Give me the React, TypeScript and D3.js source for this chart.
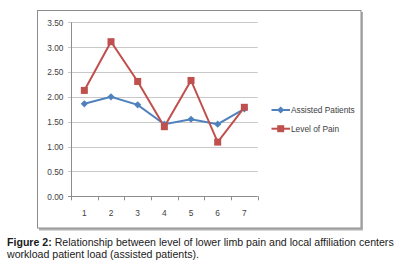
import React from "react";
import * as d3 from "d3";

const categories = ["1", "2", "3", "4", "5", "6", "7"];
const assistedPatients = [1.86, 2.0, 1.84, 1.45, 1.55, 1.45, 1.76];
const levelOfPain = [2.13, 3.11, 2.31, 1.40, 2.33, 1.09, 1.79];
const yTicks = [0, 0.5, 1, 1.5, 2, 2.5, 3, 3.5];
const seriesNames = ["Assisted Patients", "Level of Pain"];

const BLUE = "#4F81BD";
const RED = "#C0504D";
const FONT = "'Liberation Sans', Arial, sans-serif";
const SX = 0.85;

function NarrowText(props: { x: number; y: number; anchor?: string; size?: number; children: React.ReactNode }) {
  const { x, y, anchor = "start", size = 9.8, children } = props;
  return (
    <text transform={`translate(${x},${y}) scale(${SX},1)`} dy="0.35em" textAnchor={anchor}
      fontSize={size} fontFamily={FONT} fill="#404040">{children}</text>
  );
}

export default function App() {
  const W = 402, H = 272;
  const left = 71, right = 257.7, top = 22.3, bottom = 196.3;
  const x = d3.scaleBand<string>().domain(categories).range([left, right]).padding(0);
  const y = d3.scaleLinear().domain([0, 3.5]).range([bottom, top]);
  const cx = (c: string) => (x(c) as number) + x.bandwidth() / 2;
  const line = d3.line<number>().x((_, i) => cx(categories[i])).y((d) => y(d));
  const bounds = [...categories.map((c) => x(c) as number), right];

  const diamond = (px: number, py: number, r = 3.6) =>
    `M${px},${py - r}L${px + r},${py}L${px},${py + r}L${px - r},${py}Z`;

  return (
    <svg width={W} height={H} style={{ position: "absolute", left: 0, top: 0 }}>
      <rect x={0} y={0} width={W} height={H} fill="#fff" />
      <rect x={39} y={12} width={324} height={218.5} fill="#b0b0b0" />
      <rect x={37.5} y={10.5} width={323.5} height={217.5} fill="#fff" stroke="#8c8c8c" strokeWidth={1} />
      {yTicks.map((t) => (
        <line key={t} x1={left - 3} x2={right} y1={Math.round(y(t)) + 0.5} y2={Math.round(y(t)) + 0.5}
          stroke={t === 0 ? "#8c8c8c" : "#c8c8c8"} strokeWidth={1} />
      ))}
      <line x1={left + 0.5} x2={left + 0.5} y1={top} y2={bottom} stroke="#8c8c8c" />
      {bounds.map((b, i) => (
        <line key={i} x1={Math.round(b) + 0.5} x2={Math.round(b) + 0.5} y1={bottom} y2={bottom + 4} stroke="#8c8c8c" />
      ))}
      {yTicks.map((t) => (
        <NarrowText key={t} x={63.5} y={y(t)} anchor="end">{t.toFixed(2)}</NarrowText>
      ))}
      {categories.map((c) => (
        <NarrowText key={c} x={cx(c)} y={212.3} anchor="middle">{c}</NarrowText>
      ))}
      <path d={line(assistedPatients) as string} fill="none" stroke={BLUE} strokeWidth={2} />
      {assistedPatients.map((v, i) => (
        <path key={i} d={diamond(cx(categories[i]), y(v))} fill={BLUE} />
      ))}
      <path d={line(levelOfPain) as string} fill="none" stroke={RED} strokeWidth={2} />
      {levelOfPain.map((v, i) => (
        <rect key={i} x={cx(categories[i]) - 3.5} y={y(v) - 3.5} width={7} height={7} fill={RED} />
      ))}
      <line x1={271.5} x2={290} y1={110} y2={110} stroke={BLUE} strokeWidth={2} />
      <path d={diamond(280.7, 110)} fill={BLUE} />
      <NarrowText x={291} y={110}>{seriesNames[0]}</NarrowText>
      <line x1={271.5} x2={290} y1={128.7} y2={128.7} stroke={RED} strokeWidth={2} />
      <rect x={277.2} y={125.2} width={7} height={7} fill={RED} />
      <NarrowText x={291} y={128.7}>{seriesNames[1]}</NarrowText>
      <text x={7} y={245.5} fontSize={10.6} fontFamily={FONT} fill="#1a1a1a">
        <tspan fontWeight="bold">Figure 2:</tspan> Relationship between level of lower limb pain and local affiliation centers
      </text>
      <text x={7} y={258.3} fontSize={10.6} fontFamily={FONT} fill="#1a1a1a">
        workload patient load (assisted patients).
      </text>
    </svg>
  );
}
